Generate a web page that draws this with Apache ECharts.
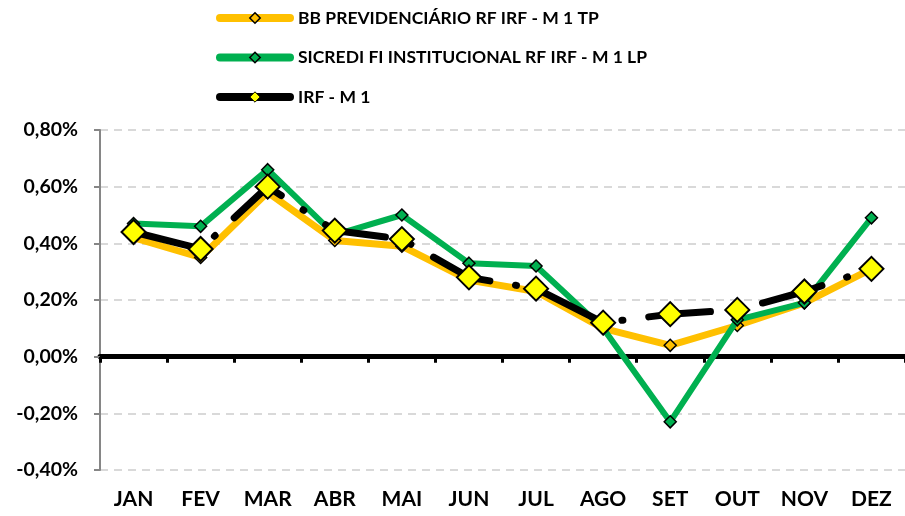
<!DOCTYPE html>
<html>
<head>
<meta charset="utf-8">
<script src="https://cdn.jsdelivr.net/npm/echarts@6/dist/echarts.min.js"></script>
<style>
  html, body { margin: 0; padding: 0; background: #fff; }
  #chart { width: 905px; height: 516px; }
</style>
</head>
<body>
<div id="chart"></div>
<script>
const months = ["JAN", "FEV", "MAR", "ABR", "MAI", "JUN", "JUL", "AGO", "SET", "OUT", "NOV", "DEZ"];
const bbPrev = [0.42, 0.35, 0.58, 0.41, 0.39, 0.27, 0.23, 0.10, 0.04, 0.11, 0.19, 0.31];
const sicredi = [0.47, 0.46, 0.66, 0.43, 0.50, 0.33, 0.32, 0.10, -0.23, 0.13, 0.19, 0.49];
const irfM1 = [0.44, 0.38, 0.60, 0.445, 0.415, 0.28, 0.24, 0.12, 0.15, 0.165, 0.23, 0.31];

const seriesNames = ["BB PREVIDENCIÁRIO RF IRF - M 1 TP", "SICREDI FI INSTITUCIONAL RF IRF - M 1 LP", "IRF - M 1"];

const FONT = "Lato";

const chart = echarts.init(document.getElementById("chart"));

// legend icons: thick solid lines with a small diamond in the middle
const legendData = [
  { name: seriesNames[0], lineStyle: { width: 8, type: "solid", cap: "round" }, itemStyle: { borderWidth: 1.5 } },
  { name: seriesNames[1], lineStyle: { width: 8, type: "solid", cap: "round" }, itemStyle: { borderWidth: 1.5 } },
  { name: seriesNames[2], lineStyle: { width: 8, type: "solid", cap: "round" }, itemStyle: { borderWidth: 1 } }
];

const options = {
  animation: false,
  backgroundColor: "#ffffff",
  legend: {
    orient: "vertical",
    left: 211,
    top: 4,
    itemWidth: 70,
    itemHeight: 13,
    itemGap: 21.5,
    textStyle: { fontFamily: FONT, fontWeight: "bold", fontSize: 17.5, color: "#000", padding: [0, 0, 0, 3] },
    data: legendData
  },
  grid: { left: 100, right: 0, top: 130, bottom: 46 },
  xAxis: [
    {
      type: "category",
      data: months,
      boundaryGap: true,
      axisLine: { onZero: true, lineStyle: { color: "#000", width: 5 } },
      axisTick: { show: true, length: 6, lineStyle: { color: "#000", width: 3 } },
      axisLabel: { show: false }
    },
    {
      type: "category",
      data: months,
      position: "bottom",
      boundaryGap: true,
      axisLine: { show: false, onZero: false },
      axisTick: { show: false },
      axisLabel: { margin: 19, fontFamily: FONT, fontWeight: "bold", fontSize: 21, color: "#000" }
    }
  ],
  yAxis: {
    type: "value",
    min: -0.4,
    max: 0.8,
    interval: 0.2,
    axisLine: { show: true, lineStyle: { color: "#868686", width: 2 } },
    axisTick: { show: true, length: 6, lineStyle: { color: "#868686", width: 2 } },
    axisLabel: {
      margin: 22,
      fontFamily: FONT,
      fontWeight: "bold",
      fontSize: 19.5,
      color: "#000",
      formatter: (v) => v.toFixed(2).replace(".", ",") + "%"
    },
    splitLine: { lineStyle: { color: "#d9d9d9", width: 2, type: [8, 6] } }
  },
  series: [
    {
      name: seriesNames[0],
      type: "line",
      data: bbPrev,
      symbol: "diamond",
      symbolSize: 12,
      lineStyle: { color: "#ffc000", width: 7 },
      itemStyle: { color: "#ffc000", borderColor: "#000", borderWidth: 1.5 },
      z: 2
    },
    {
      name: seriesNames[1],
      type: "line",
      data: sicredi,
      symbol: "diamond",
      symbolSize: 12,
      lineStyle: { color: "#00b050", width: 6 },
      itemStyle: { color: "#00b050", borderColor: "#000", borderWidth: 1.5 },
      z: 3
    },
    {
      name: seriesNames[2],
      type: "line",
      data: irfM1,
      symbol: "diamond",
      symbolSize: 24,
      lineStyle: { color: "#000", width: 7, type: [62, 26, 1, 26], cap: "round" },
      itemStyle: { color: "#ffff00", borderColor: "#000", borderWidth: 2 },
      z: 4
    }
  ]
};

chart.setOption(options);
</script>
</body>
</html>
